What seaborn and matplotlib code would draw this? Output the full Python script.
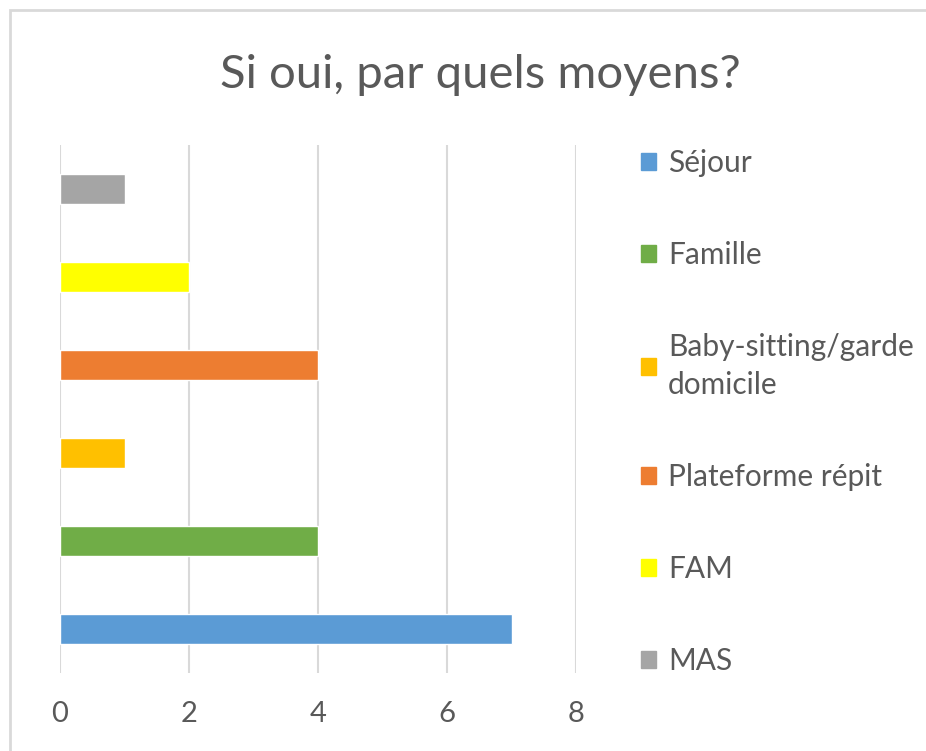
import matplotlib.pyplot as plt
import matplotlib.patches as mpatches
import seaborn as sns
import pandas as pd

# data, top to bottom as drawn
categories = ['MAS', 'FAM', 'Plateforme répit', 'Baby-sitting/garde\ndomicile', 'Famille', 'Séjour']
values = [1, 2, 4, 1, 4, 7]
colors = ['#A5A5A5', '#FFFF00', '#ED7D31', '#FFC000', '#70AD47', '#5B9BD5']
x_ticks = [0, 2, 4, 6, 8]
title = 'Si oui, par quels moyens?'

text_color = '#595959'
grid_color = '#D9D9D9'

sns.set_theme(style='white')
plt.rcParams['font.family'] = ['Lato', 'DejaVu Sans']

df = pd.DataFrame({'moyen': categories, 'n': values})

fig = plt.figure(figsize=(9.26, 7.51), dpi=100)
ax = fig.add_axes([60 / 926, 78 / 751, 516 / 926, 528 / 751])

sns.barplot(data=df, y='moyen', x='n', hue='moyen', order=categories, hue_order=categories,
            palette=colors, width=0.34, orient='h', legend=False, saturation=1, ax=ax)

ax.set_xlim(0, 8)
ax.set_xticks(x_ticks)
ax.set_xticklabels([str(t) for t in x_ticks])
ax.set_ylabel('')
ax.set_xlabel('')
ax.set_yticks([])
for s in ax.spines.values():
    s.set_visible(False)
ax.grid(axis='x', color=grid_color, linewidth=1.5)
ax.set_axisbelow(True)
ax.tick_params(axis='x', length=0, pad=20, labelsize=21, labelcolor=text_color)

# legend, Séjour first
handles = [mpatches.Patch(color=c) for c in colors[::-1]]
labels = categories[::-1]
leg = fig.legend(handles, labels, loc='upper left', bbox_to_anchor=(641 / 926, 1 - 149 / 751),
                 frameon=False, fontsize=21.5, labelcolor=text_color, handlelength=0.5,
                 handleheight=0.5, handletextpad=0.4, labelspacing=2.15, borderpad=0,
                 borderaxespad=0)
for t in leg.get_texts():
    t.set_linespacing(1.4)

fig.text(480 / 926, 1 - 75 / 751, title, ha='center', va='center', fontsize=34, color=text_color)

# outer chart frame
frame = mpatches.Rectangle((10 / 926, -0.1), 1.2, (741 / 751) + 0.1, transform=fig.transFigure,
                           fill=False, edgecolor='#D9D9D9', linewidth=2, clip_on=False)
fig.patches.append(frame)

fig.savefig('out.png', dpi=100)
